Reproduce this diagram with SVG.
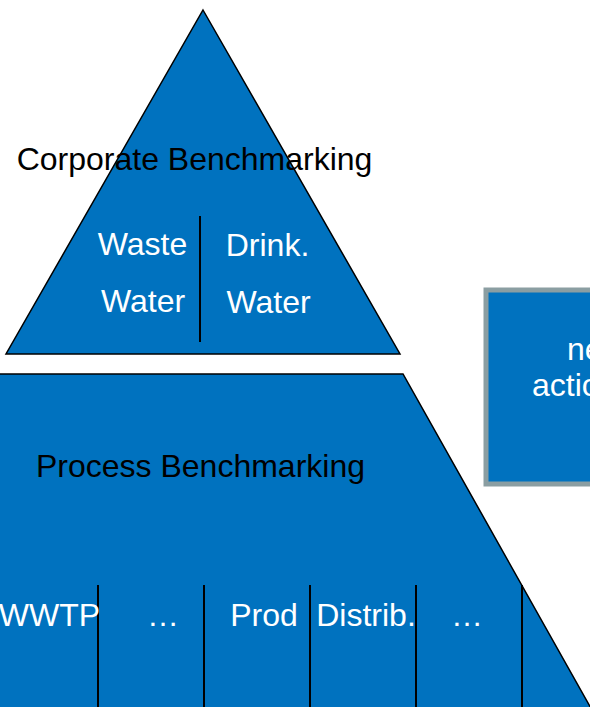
<svg xmlns="http://www.w3.org/2000/svg" width="590" height="707" viewBox="0 0 590 707">
<style>
.shape{fill:#0072BF;stroke:#000;stroke-width:1.5}
.div{stroke:#000;stroke-width:2}
.lbl{font-family:"Liberation Sans",Arial,sans-serif;font-size:32px;fill:#000;text-anchor:middle}
.w{font-family:"Liberation Sans",Arial,sans-serif;font-size:32px;fill:#fff;text-anchor:middle}
.ws{font-family:"Liberation Sans",Arial,sans-serif;font-size:32px;fill:#fff}
</style>
<rect width="590" height="707" fill="#fff"/>
<g id="corporate">
<polygon class="shape" points="203,10 400,354 6,354"/>
<line class="div" x1="200" y1="216" x2="200" y2="342"/>
<text class="lbl" x="194.5" y="170">Corporate Benchmarking</text>
<text class="w" x="142.5" y="255">Waste</text>
<text class="w" x="143" y="312">Water</text>
<text class="w" x="267.5" y="256">Drink.</text>
<text class="w" x="268.5" y="313">Water</text>
</g>
<g id="process">
<polygon class="shape" points="-20,374 403,374 592,710 -20,710"/>
<line class="div" x1="98" y1="585" x2="98" y2="707"/>
<line class="div" x1="204" y1="585" x2="204" y2="707"/>
<line class="div" x1="310" y1="585" x2="310" y2="707"/>
<line class="div" x1="416" y1="585" x2="416" y2="707"/>
<line class="div" x1="522" y1="585" x2="522" y2="707"/>
<text class="lbl" x="200.5" y="477">Process Benchmarking</text>
<text class="w" x="49.5" y="626">WWTP</text>
<text class="w" x="163" y="626">…</text>
<text class="w" x="264" y="626">Prod</text>
<text class="w" x="366" y="626">Distrib.</text>
<text class="w" x="467" y="626">…</text>
</g>
<g id="action">
<rect x="486" y="290" width="120" height="194" fill="#0072BF" stroke="#8B9EA2" stroke-width="5"/>
<text class="ws" x="567" y="360">ne</text>
<text class="ws" x="532" y="396">actio</text>
</g>
</svg>
